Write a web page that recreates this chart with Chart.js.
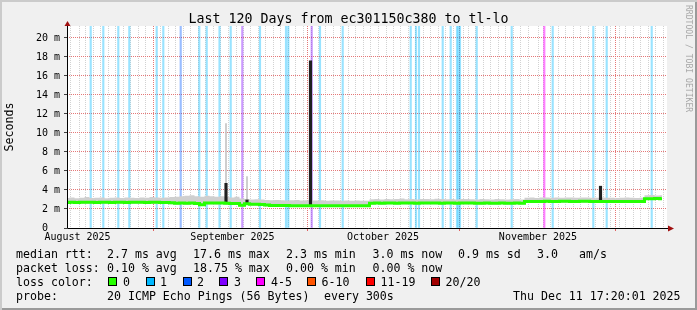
<!DOCTYPE html>
<html>
<head>
<meta charset="utf-8">
<script src="https://cdn.jsdelivr.net/npm/chart.js@4.4.0/dist/chart.umd.min.js"></script>
<style>
html, body { margin: 0; padding: 0; background: #fff; }
#frame {
    position: relative; width: 697px; height: 310px; overflow: hidden;
    background: #f0f0f0;
    box-shadow: inset 2px 2px 0 #cbcbcb, inset -2px -2px 0 #9a9a9a;
}
#chart { position: absolute; left: 0; top: 0; }
.t { position: absolute; font-family: 'DejaVu Sans Mono', monospace; white-space: pre; color: #000; }
.leg { font-size: 11.6px; line-height: 14px; }
.box { position: absolute; width: 9px; height: 9px; box-sizing: border-box; border: 1px solid #000; }
#title { font-size: 13.3px; line-height: 16px; left: 0; width: 697px; text-align: center; top: 11px; }
#mark { font-size: 8.1px; line-height: 10px; color: #a8a8a8; left: 694px; top: 5px; transform-origin: 0 0; transform: rotate(90deg); }
</style>
</head>
<body>
<div id="frame">
    <canvas id="chart" width="697" height="310"></canvas>
    <div id="title" class="t">Last 120 Days from ec301150c380 to tl-lo</div>
    <div id="mark" class="t">RRDTOOL / TOBI OETIKER</div>
    <div id="legend"></div>
</div>
<script>
// x values are days since the left edge of the graph (Aug 13 17:20 -> Dec 11 17:20)
const monthDays = [18.0, 48.1, 79.1, 110.0];
const monthLabelDays = [2.1, 33.1, 63.2, 94.2];
const monthLabels = ['August 2025', 'September 2025', 'October 2025', 'November 2025'];

const yMax = 21.26;

// median rtt per day (ms)
const medianRtt = [
    2.68, 2.70, 2.68, 2.70, 2.72, 2.70, 2.68, 2.70, 2.70, 2.68, 2.70, 2.70, 2.68, 2.70, 2.70, 2.70, 2.68, 2.70, 2.70, 2.68, 2.68, 2.66,
    2.60, 2.62, 2.60, 2.62, 2.58, 2.45, 2.62, 2.64, 2.62, 2.64,
    2.60, 2.58, 2.58, 2.40, 2.55, 2.50, 2.50, 2.48, 2.42, 2.38, 2.36, 2.36, 2.36, 2.35, 2.35, 2.35, 2.35,
    2.35, 2.34, 2.34, 2.33, 2.33, 2.34, 2.33, 2.33, 2.33, 2.34, 2.33, 2.33,
    2.60, 2.62, 2.60, 2.62, 2.62, 2.60, 2.62, 2.64, 2.62, 2.60, 2.62, 2.62, 2.64, 2.62, 2.60, 2.62, 2.62, 2.60, 2.62, 2.64, 2.62, 2.60, 2.60, 2.62, 2.60, 2.60, 2.62, 2.60, 2.60, 2.62, 2.60,
    2.78, 2.78, 2.80, 2.80, 2.82, 2.80, 2.80, 2.82, 2.82, 2.80, 2.80, 2.82, 2.82, 2.80, 2.80, 2.78, 2.78, 2.80, 2.78, 2.78, 2.78, 2.80, 2.78, 2.78,
    3.08, 3.08, 3.10, 3.08,
    null
];

// smoke band (spread of the pings) per day
const smokeLow = [
    2.52, 2.55, 2.53, 2.55, 2.55, 2.55, 2.53, 2.55, 2.55, 2.53, 2.55, 2.55, 2.53, 2.55, 2.55, 2.55, 2.53, 2.55, 2.55, 2.53, 2.53, 2.51,
    2.45, 2.47, 2.45, 2.47, 2.41, 2.33, 2.47, 2.49, 2.47, 2.49,
    2.45, 2.43, 2.43, 2.25, 2.41, 2.37, 2.37, 2.35, 2.29, 2.25, 2.23, 2.23, 2.23, 2.22, 2.22, 2.22, 2.22,
    2.22, 2.21, 2.21, 2.20, 2.20, 2.21, 2.20, 2.20, 2.20, 2.21, 2.20, 2.20,
    2.47, 2.49, 2.47, 2.49, 2.49, 2.47, 2.49, 2.51, 2.49, 2.47, 2.49, 2.49, 2.51, 2.49, 2.47, 2.49, 2.49, 2.47, 2.49, 2.51, 2.49, 2.47, 2.47, 2.49, 2.47, 2.47, 2.49, 2.47, 2.47, 2.49, 2.47,
    2.65, 2.65, 2.67, 2.67, 2.69, 2.67, 2.67, 2.69, 2.69, 2.67, 2.67, 2.69, 2.69, 2.67, 2.67, 2.65, 2.65, 2.67, 2.65, 2.65, 2.65, 2.67, 2.65, 2.65,
    2.95, 2.95, 2.97, 2.95,
    null
];
const smokeHigh = [
    3.15, 3.20, 3.12, 3.18, 3.25, 3.15, 3.18, 3.20, 3.12, 3.18, 3.20, 3.15, 3.22, 3.18, 3.15, 3.20, 3.18, 3.25, 3.20, 3.18, 3.22, 3.25,
    3.30, 3.35, 3.40, 3.45, 3.35, 3.30, 3.40, 3.35, 3.30, 3.35,
    3.25, 3.20, 3.30, 3.10, 3.05, 3.00, 3.02, 3.00, 2.95, 2.92, 2.95, 2.92, 2.90, 2.92, 2.95, 2.90, 2.92,
    2.90, 2.90, 2.92, 2.88, 2.90, 2.90, 2.86, 2.90, 2.88, 2.90, 2.88, 2.86,
    3.02, 3.05, 3.00, 3.06, 3.02, 3.05, 3.10, 3.02, 3.05, 3.00, 3.06, 3.05, 3.02, 3.08, 3.05, 3.02, 3.06, 3.00, 3.05, 3.06, 3.02, 3.00, 3.05, 3.02, 3.00, 3.05, 3.02, 3.00, 3.02, 3.05, 3.00,
    3.18, 3.20, 3.15, 3.22, 3.20, 3.18, 3.20, 3.18, 3.22, 3.20, 3.18, 3.20, 3.20, 3.18, 3.18, 3.20, 3.18, 3.18, 3.15, 3.18, 3.20, 3.18, 3.15, 3.18,
    3.45, 3.48, 3.42, 3.45,
    null
];

// single-sample median spikes
const spikeDays = [31.8, 36.0, 48.7, 106.7];
const spikeLow = [2.60, 2.55, 2.35, 2.80];
const spikeHigh = [4.70, 2.95, 17.6, 4.40];

// single-sample smoke spikes
const smokeSpikeDays = [31.8, 36.0];
const smokeSpikeLow = [4.70, 2.95];
const smokeSpikeHigh = [11.0, 5.40];

// packet loss events: day and loss class index
const lossDays = [4.74, 7.26, 10.26, 12.46, 17.94, 19.26, 22.74, 26.46, 27.94, 30.5, 32.74, 35.06, 38.6, 43.8, 44.26,
    48.94, 50.6, 55.14, 68.74, 69.8, 70.4, 75.14, 76.74, 78.0, 78.3, 78.6, 81.94, 88.94, 95.46, 97.14, 105.26, 107.94, 116.94];
const lossLevels = [1, 1, 1, 1, 1, 1, 2, 1, 1, 1, 1, 3, 1, 1, 1,
    3, 1, 1, 1, 1, 1, 1, 1, 1, 1, 1, 1, 1, 4, 1, 1, 1, 1];

const lossLabels = ['0', '1', '2', '3', '4-5', '6-10', '11-19', '20/20'];
const lossColors = ['#26ff00', '#00b8ff', '#0059ff', '#7e00ff', '#ff00ff', '#ff5500', '#ff0000', '#a10000'];
const lossBarColors = ['#26ff00', 'rgba(0,184,255,0.4)', 'rgba(0,89,255,0.4)', 'rgba(126,0,255,0.4)', 'rgba(255,0,255,0.5)',
    'rgba(255,85,0,0.4)', 'rgba(255,0,0,0.4)', 'rgba(161,0,0,0.4)'];

const yTickValues = [];
for (let v = 0; v <= 21; v++) yTickValues.push(v);

function near(list, v) {
    return list.findIndex(d => Math.abs(d - v) < 1e-6);
}

const xTickValues = [];
for (let v = 0; v <= 120.001; v += 1.5) xTickValues.push(+v.toFixed(2));
monthDays.concat(monthLabelDays).forEach(d => {
    if (near(xTickValues, d) < 0) xTickValues.push(d);
});
xTickValues.sort((a, b) => a - b);

const days = medianRtt.map((_, i) => i);

const axisDeco = {
    id: 'axisDeco',
    beforeDraw(chart) {
        const {ctx, chartArea: a} = chart;
        ctx.save();
        ctx.fillStyle = '#ffffff';
        ctx.fillRect(a.left, a.top, a.right - a.left, a.bottom - a.top);
        ctx.restore();
    },
    afterDraw(chart) {
        const {ctx, chartArea: a} = chart;
        const x0 = Math.round(a.left) + 0.5;
        const y0 = Math.round(a.bottom) + 0.5;
        ctx.save();
        ctx.strokeStyle = '#000000';
        ctx.lineWidth = 1;
        ctx.beginPath();
        ctx.moveTo(x0, y0);
        ctx.lineTo(a.right + 2, y0);
        ctx.moveTo(x0, y0);
        ctx.lineTo(x0, a.top - 3);
        ctx.stroke();
        ctx.fillStyle = '#a01010';
        ctx.beginPath();
        ctx.moveTo(a.right + 1, y0 - 3);
        ctx.lineTo(a.right + 7, y0);
        ctx.lineTo(a.right + 1, y0 + 3);
        ctx.closePath();
        ctx.fill();
        ctx.beginPath();
        ctx.moveTo(x0 - 3, a.top);
        ctx.lineTo(x0, a.top - 5);
        ctx.lineTo(x0 + 3, a.top);
        ctx.closePath();
        ctx.fill();
        ctx.restore();
    }
};

Chart.defaults.font.family = "'DejaVu Sans Mono', monospace";
Chart.defaults.color = '#000';

new Chart(document.getElementById('chart'), {
    type: 'line',
    data: {
        datasets: [
            {
                type: 'bar',
                label: 'loss',
                data: lossDays.map(d => ({x: d, y: yMax})),
                backgroundColor: lossLevels.map(l => lossBarColors[l]),
                barThickness: 1.5,
                grouped: false,
                borderWidth: 0,
                order: 10
            },
            {
                label: 'smoke low',
                data: days.map(d => ({x: d, y: smokeLow[d]})),
                borderWidth: 0,
                pointRadius: 0,
                stepped: 'middle',
                fill: false,
                order: 8
            },
            {
                label: 'smoke high',
                data: days.map(d => ({x: d, y: smokeHigh[d]})),
                borderWidth: 0,
                pointRadius: 0,
                stepped: 'middle',
                backgroundColor: '#cfcfcf',
                fill: '-1',
                order: 7
            },
            {
                type: 'bar',
                label: 'smoke spikes',
                data: smokeSpikeDays.map((d, i) => ({x: d, y: [smokeSpikeLow[i], smokeSpikeHigh[i]]})),
                backgroundColor: '#c4c4c4',
                barThickness: 1,
                grouped: false,
                borderWidth: 0,
                order: 6
            },
            {
                type: 'bar',
                label: 'spikes',
                data: spikeDays.map((d, i) => ({x: d, y: [spikeLow[i], spikeHigh[i]]})),
                backgroundColor: '#202020',
                barThickness: 2.5,
                grouped: false,
                borderWidth: 0,
                order: 3
            },
            {
                label: 'median rtt',
                data: days.map(d => ({x: d, y: medianRtt[d]})),
                borderColor: lossColors[0],
                borderWidth: 3,
                pointRadius: 0,
                stepped: 'middle',
                fill: false,
                order: 1
            }
        ]
    },
    options: {
        responsive: false,
        animation: false,
        devicePixelRatio: 1,
        layout: {
            padding: {left: 0, right: 30, top: 26, bottom: 62}
        },
        plugins: {
            legend: {display: false},
            tooltip: {enabled: false},
            title: {display: false}
        },
        scales: {
            x: {
                type: 'linear',
                min: 0,
                max: 120,
                offset: false,
                afterBuildTicks: scale => {
                    scale.ticks = xTickValues.map(v => ({value: v}));
                },
                afterFit: scale => {
                    scale.height = 20;
                },
                ticks: {
                    autoSkip: false,
                    maxRotation: 0,
                    minRotation: 0,
                    padding: 0,
                    font: {size: 10},
                    callback: v => {
                        const i = near(monthLabelDays, v);
                        return i >= 0 ? monthLabels[i] : '';
                    }
                },
                grid: {
                    drawTicks: true,
                    tickLength: 3,
                    lineWidth: 1,
                    color: c => {
                        if (!c.tick) return 'rgba(0,0,0,0)';
                        if (near(monthDays, c.tick.value) >= 0) return '#e47878';
                        if (near(monthLabelDays, c.tick.value) >= 0) return 'rgba(0,0,0,0)';
                        return '#d2d2d2';
                    },
                    tickColor: c => (c.tick && near(monthDays, c.tick.value) >= 0) ? '#e06060' : 'rgba(0,0,0,0)'
                },
                border: {display: false, dash: [1, 1]}
            },
            y: {
                type: 'linear',
                min: 0,
                max: yMax,
                afterBuildTicks: scale => {
                    scale.ticks = yTickValues.map(v => ({value: v}));
                },
                afterFit: scale => {
                    scale.width = 67;
                },
                ticks: {
                    padding: 4,
                    font: {size: 10},
                    callback: v => v === 0 ? '0  ' : (v % 2 === 0 ? v + ' m' : '')
                },
                grid: {
                    drawTicks: true,
                    tickLength: 3,
                    lineWidth: 1,
                    color: c => {
                        if (!c.tick || c.tick.value === 0) return 'rgba(0,0,0,0)';
                        return c.tick.value % 2 === 0 ? '#e47878' : '#d2d2d2';
                    },
                    tickColor: c => (c.tick && c.tick.value % 2 === 0) ? '#404040' : 'rgba(0,0,0,0)'
                },
                border: {display: false, dash: [1, 1]},
                title: {
                    display: true,
                    text: 'Seconds',
                    font: {size: 11.6},
                    padding: {top: 3.5, bottom: 0}
                }
            }
        }
    },
    plugins: [axisDeco]
});

// legend block under the graph, placed the way rrdtool prints it
const legendRows = [
    {top: 247.3, items: [[16, 'median rtt:'], [107, '2.7 ms avg'], [193, '17.6 ms max'], [286, '2.3 ms min'],
        [372.5, '3.0 ms now'], [458, '0.9 ms sd'], [537, '3.0'], [579, 'am/s']]},
    {top: 260.9, items: [[16, 'packet loss:'], [107, '0.10 % avg'], [193, '18.75 % max'], [286, '0.00 % min'],
        [372.5, '0.00 % now']]},
    {top: 274.7, items: [[16, 'loss color:']]},
    {top: 288.7, items: [[16, 'probe:'], [107, '20 ICMP Echo Pings (56 Bytes)'], [324, 'every 300s'],
        [513, 'Thu Dec 11 17:20:01 2025']]}
];
const swatchX = [108, 145.5, 182.5, 219, 256, 307, 365.5, 430.5];
const swatchLabelX = [123, 160, 197, 234, 271, 321.5, 380.5, 445.5];

const legend = document.getElementById('legend');
legendRows.forEach(row => {
    row.items.forEach(([x, text]) => {
        const s = document.createElement('div');
        s.className = 't leg';
        s.style.left = x + 'px';
        s.style.top = row.top + 'px';
        s.textContent = text;
        legend.appendChild(s);
    });
});
lossLabels.forEach((label, i) => {
    const b = document.createElement('div');
    b.className = 'box';
    b.style.left = swatchX[i] + 'px';
    b.style.top = '277px';
    b.style.background = lossColors[i];
    legend.appendChild(b);
    const s = document.createElement('div');
    s.className = 't leg';
    s.style.left = swatchLabelX[i] + 'px';
    s.style.top = '274.7px';
    s.textContent = label;
    legend.appendChild(s);
});
</script>
</body>
</html>
